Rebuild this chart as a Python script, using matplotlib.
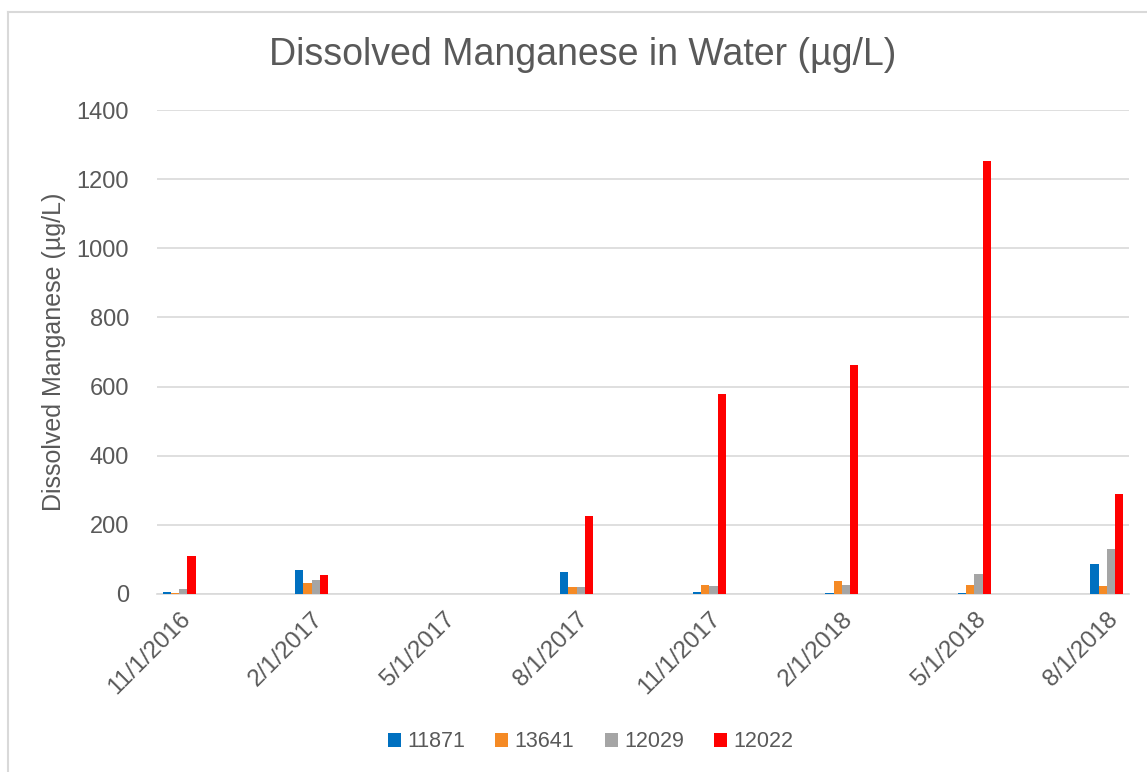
import matplotlib
matplotlib.use('Agg')
import matplotlib.pyplot as plt
import pandas as pd
import numpy as np

plt.rcParams['font.family'] = ['Liberation Sans', 'DejaVu Sans']

# 数据
dates = ['11/1/2016', '2/1/2017', '8/1/2017', '11/1/2017', '2/1/2018', '5/1/2018', '8/1/2018']
tick_dates = ['11/1/2016', '2/1/2017', '5/1/2017', '8/1/2017', '11/1/2017', '2/1/2018', '5/1/2018', '8/1/2018']
s11871 = [6, 70, 65, 7, 4, 4, 88]
s13641 = [2, 32, 21, 27, 37, 25, 23]
s12029 = [15, 41, 21, 23, 25, 57, 130]
s12022 = [110, 55, 226, 578, 663, 1252, 289]

series = [('11871', s11871, '#0070c0'), ('13641', s13641, '#f58a25'),
          ('12029', s12029, '#a5a5a5'), ('12022', s12022, '#ff0000')]


def month_index(d):
    t = pd.to_datetime(d, format='%m/%d/%Y')
    return (t.year - 2016) * 12 + t.month - 11


x = np.array([month_index(d) for d in dates])
xt = [month_index(d) for d in tick_dates]

fig = plt.figure(figsize=(11.47, 7.72), dpi=100)
ax = fig.add_axes([0.1369, 0.2306, 0.8474, 0.6269])

w = 0.1875
for i, (name, vals, color) in enumerate(series):
    ax.bar(x + (i - 1.5) * w, vals, width=w, color=color, label=name, zorder=3)

ax.set_xlim(-0.5, 21.5)
ax.set_ylim(0, 1400)
ax.set_yticks(range(0, 1401, 200))
ax.set_xticks(xt)
ax.set_xticklabels(tick_dates, rotation=45, ha='right', rotation_mode='anchor')
ax.grid(axis='y', color='#d9d9d9', linewidth=1.2, zorder=0)
ax.tick_params(axis='both', length=0, colors='#595959')
ax.tick_params(axis='y', pad=20, labelsize=17)
ax.tick_params(axis='x', pad=10, labelsize=17.5)
for s in ['top', 'right', 'left']:
    ax.spines[s].set_visible(False)
ax.spines['bottom'].set_color('#d9d9d9')
ax.spines['bottom'].set_linewidth(1.2)

ax.set_ylabel('Dissolved Manganese (µg/L)', fontsize=18, color='#595959', labelpad=8)
fig.text(0.508, 0.929, 'Dissolved Manganese in Water (µg/L)', ha='center', va='center',
         fontsize=27, color='#595959')

fig.legend(loc='center', bbox_to_anchor=(0.515, 0.039), ncol=4, frameon=False,
           fontsize=15.5, handlelength=0.6, handleheight=0.6, handletextpad=0.3,
           columnspacing=1.4, labelcolor='#595959')

# 外框
fig.add_artist(plt.Line2D([8 / 1147, 1], [1 - 12 / 772, 1 - 12 / 772], color='#d9d9d9', lw=1.5))
fig.add_artist(plt.Line2D([8 / 1147, 8 / 1147], [0, 1 - 12 / 772], color='#d9d9d9', lw=1.5))

fig.savefig('out.png', dpi=100)
